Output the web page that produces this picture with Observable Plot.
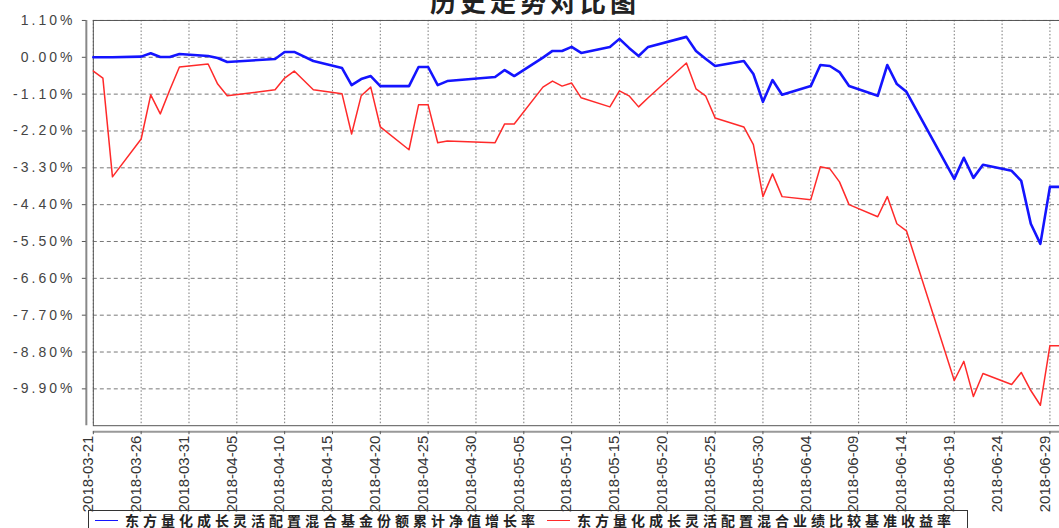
<!DOCTYPE html>
<html><head><meta charset="utf-8">
<script src="https://cdn.jsdelivr.net/npm/d3@7"></script>
<script src="https://cdn.jsdelivr.net/npm/@observablehq/plot@0.6"></script>
<style>
html,body{margin:0;padding:0;background:#fff;overflow:hidden;width:1059px;height:528px;}
#wrap{position:relative;width:1059px;height:528px;overflow:hidden;}
#title{position:absolute;left:0;width:1070px;top:-18px;line-height:26px;text-align:center;font:bold 26px "Noto Sans CJK SC",sans-serif;letter-spacing:4px;color:#222;}
#chart{position:absolute;left:0;top:0;}
#legend{position:absolute;left:88px;top:510px;width:880px;height:20px;border:1px solid #333;box-sizing:border-box;display:flex;align-items:flex-start;padding-left:6px;padding-top:2px;font:bold 14px "Noto Sans CJK SC",sans-serif;line-height:14px;letter-spacing:4px;color:#222;}
.sw{display:inline-block;width:23px;height:0;margin-right:7px;}
.item{display:flex;align-items:center;}
</style></head>
<body><div id="wrap"><div id="chart"></div><div id="title"></div><div id="legend"></div></div>
<script>
const title = "历史走势对比图";
const seriesNames = ["东方量化成长灵活配置混合基金份额累计净值增长率", "东方量化成长灵活配置混合业绩比较基准收益率"];
const seriesColors = ["#1414ff", "#ff2a2a"];
const dates = ["2018-03-21","2018-03-22","2018-03-23","2018-03-26","2018-03-27","2018-03-28","2018-03-29","2018-03-30",
"2018-04-02","2018-04-03","2018-04-04","2018-04-09","2018-04-10","2018-04-11","2018-04-13","2018-04-16","2018-04-17",
"2018-04-18","2018-04-19","2018-04-20","2018-04-23","2018-04-24","2018-04-25","2018-04-26","2018-04-27",
"2018-05-02","2018-05-03","2018-05-04","2018-05-07","2018-05-08","2018-05-09","2018-05-10","2018-05-11",
"2018-05-14","2018-05-15","2018-05-16","2018-05-17","2018-05-18","2018-05-22","2018-05-23","2018-05-24","2018-05-25",
"2018-05-28","2018-05-29","2018-05-30","2018-05-31","2018-06-01","2018-06-04","2018-06-05","2018-06-06","2018-06-07",
"2018-06-08","2018-06-11","2018-06-12","2018-06-13","2018-06-14","2018-06-19","2018-06-20","2018-06-21","2018-06-22",
"2018-06-25","2018-06-26","2018-06-27","2018-06-28","2018-06-29","2018-06-30"];
const fundValues = [0.00,0.00,0.00,0.02,0.12,0.01,0.01,0.10,
0.04,-0.02,-0.14,-0.05,0.16,0.16,-0.11,-0.32,-0.83,
-0.65,-0.56,-0.86,-0.86,-0.29,-0.29,-0.83,-0.71,
-0.59,-0.38,-0.56,-0.01,0.19,0.19,0.31,0.13,
0.31,0.55,0.28,0.04,0.31,0.61,0.19,-0.04,-0.26,
-0.11,-0.50,-1.33,-0.68,-1.12,-0.86,-0.23,-0.26,-0.44,
-0.86,-1.15,-0.23,-0.80,-1.03,-3.63,-3.00,-3.60,-3.21,
-3.39,-3.69,-4.97,-5.57,-3.87,-3.87];
const benchValues = [-0.41,-0.62,-3.57,-2.44,-1.12,-1.69,-0.97,-0.29,
-0.20,-0.80,-1.15,-0.97,-0.62,-0.41,-0.97,-1.09,-2.29,
-1.15,-0.89,-2.08,-2.76,-1.42,-1.42,-2.55,-2.50,
-2.55,-1.99,-1.99,-0.89,-0.71,-0.86,-0.77,-1.21,
-1.48,-1.00,-1.15,-1.48,-1.21,-0.17,-0.94,-1.15,-1.81,
-2.08,-2.61,-4.16,-3.48,-4.16,-4.25,-3.27,-3.33,-3.72,
-4.40,-4.76,-4.16,-4.97,-5.18,-9.65,-9.08,-10.13,-9.44,
-9.77,-9.41,-9.95,-10.39,-8.61,-8.61];
const yTicks = [1.1,0,-1.1,-2.2,-3.3,-4.4,-5.5,-6.6,-7.7,-8.8,-9.9];
const yDomain = [-11.0, 1.1];
const xTickLabels = ["2018-03-21","2018-03-26","2018-03-31","2018-04-05","2018-04-10","2018-04-15","2018-04-20",
"2018-04-25","2018-04-30","2018-05-05","2018-05-10","2018-05-15","2018-05-20","2018-05-25","2018-05-30",
"2018-06-04","2018-06-09","2018-06-14","2018-06-19","2018-06-24","2018-06-29"];
const xDomainLabels = ["2018-03-21","2018-06-30"];

const parse = d3.utcParse("%Y-%m-%d");
const fund = dates.map((d,i)=>({date:parse(d), value:fundValues[i]}));
const bench = dates.map((d,i)=>({date:parse(d), value:benchValues[i]}));
const xTicks = xTickLabels.map(parse);
const xDomain = xDomainLabels.map(parse);
const fmtDate = d3.utcFormat("%Y-%m-%d");

const font = '"Liberation Sans", Arial, sans-serif';
const plot = Plot.plot({
  width: 1061, height: 505,
  marginTop: 20, marginLeft: 93, marginRight: 0, marginBottom: 79,
  style: {fontFamily: font, background: "transparent", overflow: "visible"},
  x: {type: "utc", domain: xDomain},
  y: {domain: yDomain},
  marks: [
    Plot.gridY(yTicks, {stroke: "#777", strokeOpacity: 1, strokeDasharray: "4,3"}),
    Plot.gridX(xTicks, {stroke: "#777", strokeOpacity: 1, strokeDasharray: "1.5,2"}),
    Plot.frame({stroke: "#555"}),
    Plot.ruleX([xDomain[0]], {dx: -7, stroke: "#888", strokeWidth: 2}),
    Plot.ruleY([yDomain[0]], {dy: 6, stroke: "#999", strokeWidth: 2}),
    Plot.axisY({ticks: yTicks, tickFormat: d => d.toFixed(2) + "%", tickSize: 4, tickPadding: 7, dx: -7,
      fontSize: 14, fill: "#444", stroke: "#555", label: null}),
    Plot.axisX({ticks: xTicks, tickFormat: () => "", tickSize: 3, dy: 6, stroke: "#555", label: null}),
    Plot.axisX({ticks: xTicks, tickFormat: fmtDate, tickSize: 0, tickPadding: 10, dx: -5, tickRotate: -90,
      fontSize: 15, fill: "#333", label: null}),
    Plot.line(bench, {x: "date", y: "value", stroke: seriesColors[1], strokeWidth: 1.5}),
    Plot.line(fund, {x: "date", y: "value", stroke: seriesColors[0], strokeWidth: 2.6})
  ]
});
plot.querySelectorAll('[aria-label="y-axis tick label"] text').forEach(t => t.setAttribute("letter-spacing", "3"));
document.getElementById("chart").appendChild(plot);
document.getElementById("title").textContent = title;
const leg = document.getElementById("legend");
seriesNames.forEach((n,i) => {
  const it = document.createElement("div");
  it.className = "item";
  it.style.marginRight = i === 0 ? "8px" : "0";
  const sw = document.createElement("span");
  sw.className = "sw";
  sw.style.borderTop = "1.5px solid " + seriesColors[i];
  const tx = document.createElement("span");
  tx.textContent = n;
  it.appendChild(sw); it.appendChild(tx);
  leg.appendChild(it);
});
</script></body></html>
